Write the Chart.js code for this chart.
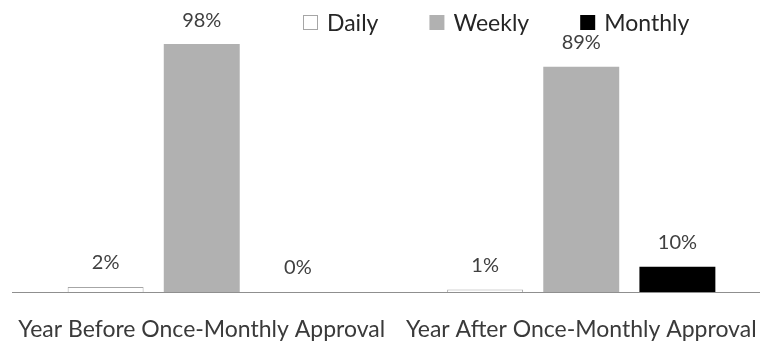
<!DOCTYPE html>
<html>
<head>
<meta charset="utf-8">
<script src="https://cdn.jsdelivr.net/npm/chart.js@4/dist/chart.umd.min.js"></script>
<style>
  html, body { margin: 0; padding: 0; background: #fff; overflow: hidden; }
  #wrap { width: 772px; height: 350px; }
</style>
</head>
<body>
<div id="wrap"><canvas id="c" width="772" height="350"></canvas></div>
<script>
// Share of approvals by frequency, before and after once-monthly approval
const categories = ['Year Before Once-Monthly Approval', 'Year After Once-Monthly Approval'];
const seriesNames = ['Daily', 'Weekly', 'Monthly'];
const dailyValues = [2, 1];
const weeklyValues = [98, 89];
const monthlyValues = [0, 10];

const FONT = "Lato, 'Open Sans', 'Liberation Sans', sans-serif";

// Percentage text above each bar
const valueLabels = {
  id: 'valueLabels',
  afterDatasetsDraw(chart) {
    const ctx = chart.ctx;
    ctx.save();
    ctx.font = '20px ' + FONT;
    ctx.fillStyle = '#404040';
    ctx.textAlign = 'center';
    ctx.textBaseline = 'middle';
    chart.data.datasets.forEach((ds, i) => {
      chart.getDatasetMeta(i).data.forEach((bar, j) => {
        ctx.fillText(ds.data[j] + '%', bar.x, bar.y - 24);
      });
    });
    ctx.restore();
  }
};

// Legend row drawn in the upper right
const legendRow = {
  id: 'legendRow',
  afterDraw(chart) {
    const ctx = chart.ctx;
    ctx.save();
    ctx.font = '23px ' + FONT;
    ctx.textBaseline = 'middle';
    ctx.textAlign = 'left';
    let x = 303;
    const y = 22.5;
    chart.data.datasets.forEach((ds) => {
      ctx.fillStyle = ds.backgroundColor;
      ctx.fillRect(x, y - 7.5, 15, 15);
      if (ds.borderWidth) {
        ctx.strokeStyle = ds.borderColor;
        ctx.lineWidth = 1;
        ctx.strokeRect(x + 0.5, y - 7, 14, 14);
      }
      ctx.fillStyle = '#262626';
      ctx.fillText(ds.label, x + 24, y + 1);
      x += 24 + ctx.measureText(ds.label).width + 51;
    });
    ctx.restore();
  }
};

new Chart(document.getElementById('c'), {
  type: 'bar',
  data: {
    labels: categories,
    datasets: [
      { label: seriesNames[0], data: dailyValues, backgroundColor: '#ffffff', borderColor: '#a6a6a6', borderWidth: 1 },
      { label: seriesNames[1], data: weeklyValues, backgroundColor: '#b1b1b1', borderWidth: 0 },
      { label: seriesNames[2], data: monthlyValues, backgroundColor: '#000000', borderWidth: 0 }
    ]
  },
  options: {
    responsive: false,
    animation: false,
    devicePixelRatio: 1,
    layout: { padding: { left: 12, right: 1, top: 39, bottom: 0 } },
    datasets: { bar: { categoryPercentage: 0.76, barPercentage: 0.79 } },
    plugins: { legend: { display: false }, tooltip: { enabled: false } },
    scales: {
      x: {
        grid: { display: false, drawTicks: false },
        border: { display: true, color: '#8f8f8f', width: 1 },
        ticks: { color: '#3a3a3a', font: { family: FONT, size: 23 }, padding: 24, maxRotation: 0, autoSkip: false },
        afterFit(scale) {
          scale.height = 58;
          scale.paddingLeft = 0;
          scale.paddingRight = 0;
        }
      },
      y: { display: false, min: 0, max: 100 }
    }
  },
  plugins: [valueLabels, legendRow]
});
</script>
</body>
</html>
